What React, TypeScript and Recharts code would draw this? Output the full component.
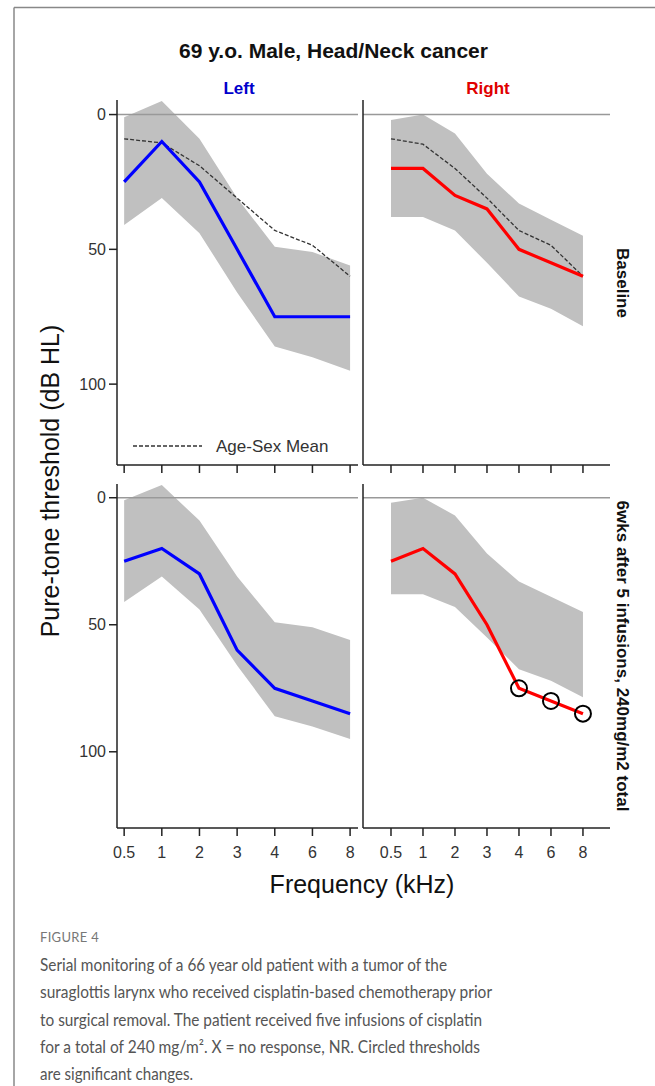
import React from 'react';
import { ComposedChart, Area, Line, XAxis, YAxis, ReferenceLine } from 'recharts';

// frequencies (kHz), evenly spaced categories
const FREQ_LABELS = ['0.5', '1', '2', '3', '4', '6', '8'];
const FREQ_INDEX = [0, 1, 2, 3, 4, 5, 6];
const Y_TICKS = [0, 50, 100];

// normative band (dB HL), low/high edge per frequency
const LEFT_BAND_LO = [1, -5, 9, 31, 49, 51, 56];
const LEFT_BAND_HI = [41, 31, 44, 66, 86, 90, 95];
const RIGHT_BAND_LO = [2, 0, 7, 22, 33, 39, 45];
const RIGHT_BAND_HI = [38, 38, 43, 55, 67.5, 72, 78.5];

// age-sex mean (baseline panels only)
const LEFT_MEAN = [9, 10.5, 19, 31, 43, 48.5, 60];
const RIGHT_MEAN = [9, 11, 20, 31, 43, 48.5, 60];

// thresholds
const LEFT_BASELINE = [25, 10, 25, 50, 75, 75, 75];
const RIGHT_BASELINE = [20, 20, 30, 35, 50, 55, 60];
const LEFT_6WKS = [25, 20, 30, 60, 75, 80, 85];
const RIGHT_6WKS = [25, 20, 30, 50, 75, 80, 85];
const RIGHT_6WKS_SIGNIFICANT = [0, 0, 0, 0, 1, 1, 1];

const CAPTION_LINES = [
  'Serial monitoring of a 66 year old patient with a tumor of the',
  'suraglottis larynx who received cisplatin-based chemotherapy prior',
  'to surgical removal. The patient received five infusions of cisplatin',
  'for a total of 240 mg/m\u00b2. X = no response, NR. Circled thresholds',
  'are significant changes.',
];
const CAPTION_WIDTHS = [407, 452, 442, 440, 153];

const FONT = '"Liberation Sans", Arial, sans-serif';
const AXIS = '#222';
const BAND = '#c0c0c0';
const Y_DOMAIN: [number, number] = [-5.4, 130];
const Y_AXIS_W = 60;
const X_AXIS_H = 40;

type Row = { i: number; band: [number, number]; thr: number; mean?: number; sig: number };

function buildRows(lo: number[], hi: number[], thr: number[], mean?: number[], sig?: number[]): Row[] {
  return FREQ_INDEX.map((i) => ({
    i,
    band: [lo[i], hi[i]],
    thr: thr[i],
    mean: mean ? mean[i] : undefined,
    sig: sig ? sig[i] : 0,
  }));
}

interface PanelProps {
  x: number;
  y: number;
  w: number;
  h: number;
  rows: Row[];
  xDomain: [number, number];
  color: string;
  yTicks: boolean;
  xLabels: boolean;
  showMean: boolean;
}

function Panel({ x, y, w, h, rows, xDomain, color, yTicks, xLabels, showMean }: PanelProps) {
  const renderDot = (props: any) =>
    rows[props.index]?.sig ? (
      <circle key={props.index} cx={props.cx} cy={props.cy} r={8} fill="none" stroke="#000" strokeWidth={2} />
    ) : (
      <g key={props.index} />
    );

  return (
    <div style={{ position: 'absolute', left: x - Y_AXIS_W, top: y }}>
      <ComposedChart
        width={Y_AXIS_W + w}
        height={h + X_AXIS_H}
        data={rows}
        margin={{ top: 0, right: 0, bottom: 0, left: 0 }}
      >
        <XAxis
          type="number"
          dataKey="i"
          domain={xDomain}
          allowDataOverflow
          ticks={FREQ_INDEX}
          interval={0}
          height={X_AXIS_H}
          tickSize={8}
          tickMargin={11}
          tickFormatter={(v: number) => (xLabels ? FREQ_LABELS[v] : '')}
          tick={{ fontSize: 16, fill: '#333', fontFamily: FONT }}
          axisLine={{ stroke: AXIS, strokeWidth: 1.5 }}
          tickLine={{ stroke: AXIS, strokeWidth: 1.5 }}
        />
        <YAxis
          reversed
          domain={Y_DOMAIN}
          allowDataOverflow
          ticks={Y_TICKS}
          width={Y_AXIS_W}
          tickSize={8}
          tickMargin={3}
          tick={yTicks ? { fontSize: 16, fill: '#333', fontFamily: FONT } : false}
          tickLine={yTicks ? { stroke: AXIS, strokeWidth: 1.5 } : false}
          axisLine={{ stroke: AXIS, strokeWidth: 1.5 }}
        />
        <Area
          dataKey="band"
          type="linear"
          fill={BAND}
          fillOpacity={1}
          stroke="none"
          activeDot={false}
          isAnimationActive={false}
        />
        <ReferenceLine y={0} stroke="#999" strokeWidth={1.5} />
        {showMean && (
          <Line
            dataKey="mean"
            type="linear"
            stroke="#333"
            strokeWidth={1.3}
            strokeDasharray="4 2"
            dot={false}
            activeDot={false}
            isAnimationActive={false}
          />
        )}
        <Line
          dataKey="thr"
          type="linear"
          stroke={color}
          strokeWidth={3.2}
          dot={renderDot}
          activeDot={false}
          isAnimationActive={false}
        />
      </ComposedChart>
    </div>
  );
}

const LEFT_X: [number, number] = [-0.19, 6.21];
const RIGHT_X: [number, number] = [-0.875, 6.845];

export default function App() {
  return (
    <div style={{ position: 'absolute', left: 0, top: 0, width: 655, height: 1086, background: '#fff', overflow: 'hidden', fontFamily: FONT }}>
      <Panel x={117} y={100} w={241} h={365} xDomain={LEFT_X} color="#0000ff" yTicks xLabels={false} showMean
        rows={buildRows(LEFT_BAND_LO, LEFT_BAND_HI, LEFT_BASELINE, LEFT_MEAN)} />
      <Panel x={363} y={100} w={247} h={365} xDomain={RIGHT_X} color="#ff0000" yTicks={false} xLabels={false} showMean
        rows={buildRows(RIGHT_BAND_LO, RIGHT_BAND_HI, RIGHT_BASELINE, RIGHT_MEAN)} />
      <Panel x={117} y={484} w={241} h={344} xDomain={LEFT_X} color="#0000ff" yTicks xLabels showMean={false}
        rows={buildRows(LEFT_BAND_LO, LEFT_BAND_HI, LEFT_6WKS)} />
      <Panel x={363} y={484} w={247} h={344} xDomain={RIGHT_X} color="#ff0000" yTicks={false} xLabels showMean={false}
        rows={buildRows(RIGHT_BAND_LO, RIGHT_BAND_HI, RIGHT_6WKS, undefined, RIGHT_6WKS_SIGNIFICANT)} />

      <svg width={655} height={1086} style={{ position: 'absolute', left: 0, top: 0, pointerEvents: 'none' }}>
        <line x1={14} y1={7.5} x2={655} y2={7.5} stroke="#888" strokeWidth={1.5} />
        <line x1={14} y1={7.5} x2={14} y2={1086} stroke="#888" strokeWidth={1.5} />

        <text x={333.5} y={58} textAnchor="middle" fontSize={21} fontWeight="bold" fill="#111" fontFamily={FONT}>
          69 y.o. Male, Head/Neck cancer
        </text>
        <text x={239} y={94} textAnchor="middle" fontSize={17} fontWeight="bold" fill="#0000cc" fontFamily={FONT}>Left</text>
        <text x={488} y={94} textAnchor="middle" fontSize={17} fontWeight="bold" fill="#e00000" fontFamily={FONT}>Right</text>

        <text transform="translate(622,283) rotate(90)" textAnchor="middle" dominantBaseline="central" fontSize={17} fontWeight="bold" fill="#111" fontFamily={FONT}>
          Baseline
        </text>
        <text transform="translate(622,656) rotate(90)" textAnchor="middle" dominantBaseline="central" fontSize={17} fontWeight="bold" fill="#111" fontFamily={FONT}>
          6wks after 5 infusions, 240mg/m2 total
        </text>

        <text transform="translate(50,481) rotate(-90)" textAnchor="middle" dominantBaseline="central" fontSize={25} fill="#111" fontFamily={FONT}>
          Pure-tone threshold (dB HL)
        </text>
        <text x={362} y={893} textAnchor="middle" fontSize={25} fill="#111" fontFamily={FONT}>Frequency (kHz)</text>

        <line x1={133} y1={446} x2={202} y2={446} stroke="#333" strokeWidth={1.3} strokeDasharray="4 2" />
        <text x={216} y={446} dominantBaseline="central" fontSize={17} fill="#333" fontFamily={FONT}>Age-Sex Mean</text>

        <text x={40} y={942} fontSize={13} fill="#777" fontFamily="Lato, sans-serif" letterSpacing={0.3}>FIGURE 4</text>
        <g fontSize={16.5} fill="#555" fontFamily="Lato, sans-serif">
          {CAPTION_LINES.map((line, k) => (
            <text key={k} x={40} y={971 + k * 27.25} textLength={CAPTION_WIDTHS[k]} lengthAdjust="spacingAndGlyphs">
              {line}
            </text>
          ))}
        </g>
      </svg>
    </div>
  );
}
